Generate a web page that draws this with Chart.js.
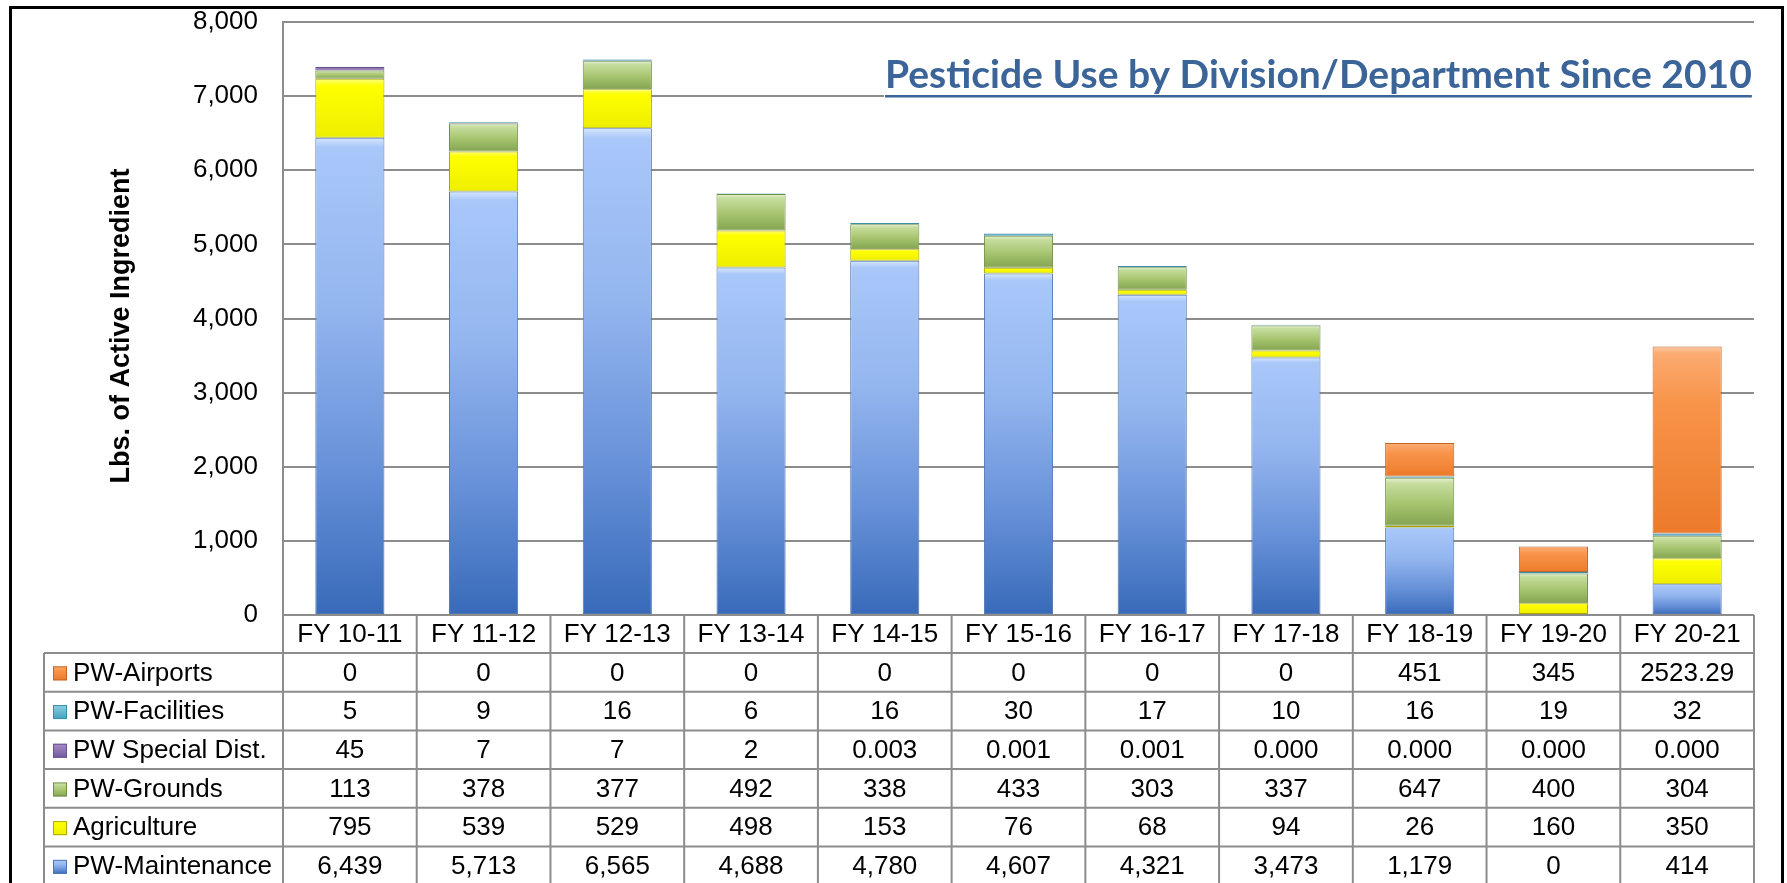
<!DOCTYPE html>
<html>
<head>
<meta charset="utf-8">
<title>Pesticide Use by Division/Department Since 2010</title>
<script src="https://cdn.jsdelivr.net/npm/chart.js@4.4.1/dist/chart.umd.min.js"></script>
<style>
  html, body { margin: 0; padding: 0; background: #fff; }
  #wrap { width: 1787px; height: 883px; }
</style>
</head>
<body>
<div id="wrap"><canvas id="pesticideChart" width="1787" height="883"></canvas></div>
<script>
var years = ['FY 10-11', 'FY 11-12', 'FY 12-13', 'FY 13-14', 'FY 14-15', 'FY 15-16', 'FY 16-17', 'FY 17-18', 'FY 18-19', 'FY 19-20', 'FY 20-21']

// lbs of active ingredient
var maintenance = [6439, 5713, 6565, 4688, 4780, 4607, 4321, 3473, 1179, 0, 414]
var agriculture = [795, 539, 529, 498, 153, 76, 68, 94, 26, 160, 350]
var grounds = [113, 378, 377, 492, 338, 433, 303, 337, 647, 400, 304]
var specialDist = [45, 7, 7, 2, 0.003, 0.001, 0.001, 0, 0, 0, 0]
var facilities = [5, 9, 16, 6, 16, 30, 17, 10, 16, 19, 32]
var airports = [0, 0, 0, 0, 0, 0, 0, 0, 451, 345, 2523.29]

var yTicks = [0, 1000, 2000, 3000, 4000, 5000, 6000, 7000, 8000]

var FONT = "'Liberation Sans', Arial, sans-serif"

function plain(v) { return String(v) }
function thousands(v) { return v.toLocaleString('en-US') }
function tiny(v) { return v >= 1 ? String(v) : v.toFixed(3) }

// bottom of the stack first
var seriesList = [
  { label: 'PW-Maintenance', values: maintenance, format: thousands, border: '#4f78b3',
    stops: [[0, '#d6e7ff'], [0.02, '#a9c7f9'], [0.35, '#94b6ef'], [0.7, '#6690d8'], [1, '#386ab9']] },
  { label: 'Agriculture', values: agriculture, format: plain, border: '#a8a800',
    stops: [[0, '#ffff80'], [0.12, '#ffff00'], [1, '#eeee00']] },
  { label: 'PW-Grounds', values: grounds, format: plain, border: '#6f8f45',
    stops: [[0, '#e6f1d2'], [0.12, '#c6dd9e'], [0.55, '#a6c46e'], [1, '#84a452']] },
  { label: 'PW Special Dist.', values: specialDist, format: tiny, border: '#6a5290',
    stops: [[0, '#a68cc6'], [1, '#7259a0']] },
  { label: 'PW-Facilities', values: facilities, format: plain, border: '#3c8fa8',
    stops: [[0, '#8fd0e4'], [1, '#3fa0bd']] },
  { label: 'PW-Airports', values: airports, format: plain, border: '#c06628',
    stops: [[0, '#fdc9a0'], [0.04, '#fbaa70'], [0.3, '#f8944a'], [1, '#ec7a2a']] },
]

function segmentFill(series, seriesIndex) {
  return function (context) {
    var chart = context.chart
    var yScale = chart.scales.y
    var i = context.dataIndex
    if (!yScale || i === undefined) return series.stops[1][1]
    var base = 0
    for (var d = 0; d < seriesIndex; d++) base += seriesList[d].values[i]
    var top = base + series.values[i]
    var y0 = yScale.getPixelForValue(top)
    var y1 = yScale.getPixelForValue(base)
    if (!(y1 - y0 > 0.5)) return series.stops[1][1]
    var g = chart.ctx.createLinearGradient(0, y0, 0, y1)
    series.stops.forEach(function (s) { g.addColorStop(s[0], s[1]) })
    return g
  }
}

var datasets = seriesList.map(function (s, idx) {
  return {
    label: s.label,
    data: s.values,
    backgroundColor: segmentFill(s, idx),
    borderColor: s.border,
    borderWidth: 1,
    borderSkipped: false,
    barPercentage: 0.517,
    categoryPercentage: 1,
  }
})

// title, y-axis title, data table and outer frame
var tablePlugin = {
  id: 'dataTable',
  afterDraw: function (chart) {
    var ctx = chart.ctx
    var area = chart.chartArea
    var colW = (area.right - area.left) / years.length
    var headerH = 38
    var rowH = 38.7
    var tableLeft = 44
    var headerBottom = area.bottom + headerH

    ctx.save()

    // title sits on a white box over the 7,000 gridline
    ctx.fillStyle = '#ffffff'
    ctx.fillRect(884, 48, area.right - 884 + 2, 58)
    ctx.font = "bold 39px Lato, 'Open Sans', sans-serif"
    ctx.fillStyle = '#3b6499'
    ctx.textAlign = 'left'
    ctx.textBaseline = 'alphabetic'
    var title = 'Pesticide Use by Division/Department Since 2010'
    ctx.fillText(title, 885, 88)
    var tw = ctx.measureText(title).width
    ctx.fillRect(885, 95, tw, 2.5)

    // y axis title
    ctx.save()
    ctx.translate(129, 326)
    ctx.rotate(-Math.PI / 2)
    ctx.font = 'bold 27px ' + FONT
    ctx.fillStyle = '#000'
    ctx.textAlign = 'center'
    ctx.fillText('Lbs. of Active Ingredient', 0, 0)
    ctx.restore()

    // table grid
    ctx.strokeStyle = '#8c8c8c'
    ctx.lineWidth = 2
    ctx.beginPath()
    ctx.moveTo(area.left, area.bottom)
    ctx.lineTo(area.right, area.bottom)
    for (var r = 0; r <= seriesList.length; r++) {
      var yy = headerBottom + r * rowH
      ctx.moveTo(tableLeft, yy)
      ctx.lineTo(area.right, yy)
    }
    for (var c = 0; c <= years.length; c++) {
      var xx = area.left + c * colW
      ctx.moveTo(xx, area.bottom)
      ctx.lineTo(xx, 900)
    }
    ctx.moveTo(tableLeft, headerBottom)
    ctx.lineTo(tableLeft, 900)
    ctx.stroke()

    ctx.font = '26px ' + FONT
    ctx.fillStyle = '#000'
    ctx.textBaseline = 'middle'
    ctx.textAlign = 'center'
    years.forEach(function (y, i) {
      ctx.fillText(y, chart.scales.x.getPixelForValue(i), area.bottom + headerH / 2 + 1)
    })

    // rows: top of the stack first
    var rows = seriesList.slice().reverse()
    rows.forEach(function (s, r) {
      var cy = headerBottom + r * rowH + rowH / 2 + 1
      var g = ctx.createLinearGradient(0, cy - 7, 0, cy + 7)
      s.stops.forEach(function (st) { g.addColorStop(st[0], st[1]) })
      ctx.fillStyle = g
      ctx.fillRect(53, cy - 7, 14, 14)
      ctx.strokeStyle = s.border
      ctx.lineWidth = 1
      ctx.strokeRect(53.5, cy - 6.5, 13, 13)

      ctx.fillStyle = '#000'
      ctx.textAlign = 'left'
      ctx.fillText(s.label, 73, cy)
      ctx.textAlign = 'center'
      s.values.forEach(function (v, i) {
        ctx.fillText(s.format(v), chart.scales.x.getPixelForValue(i), cy)
      })
    })

    // outer frame
    ctx.strokeStyle = '#000'
    ctx.lineWidth = 3
    ctx.strokeRect(10.5, 7.5, 1772, 900)

    ctx.restore()
  },
}

var chartConfig = {
  type: 'bar',
  data: { labels: years, datasets: datasets },
  options: {
    responsive: false,
    animation: false,
    layout: { padding: { left: 0, right: 33, top: 22, bottom: 268 } },
    scales: {
      x: { stacked: true, display: false },
      y: {
        stacked: true,
        min: 0,
        max: 8000,
        afterBuildTicks: function (scale) {
          scale.ticks = yTicks.map(function (v) { return { value: v } })
        },
        afterFit: function (scale) {
          scale.width = 283
          scale.paddingTop = 0
          scale.paddingBottom = 0
        },
        ticks: {
          padding: 25,
          color: '#000',
          font: { family: FONT, size: 26 },
          callback: function (v) { return v.toLocaleString('en-US') },
        },
        grid: { color: '#8c8c8c', lineWidth: 2, drawTicks: false },
        border: { color: '#8c8c8c', width: 2 },
      },
    },
    plugins: {
      legend: { display: false },
      tooltip: { enabled: false },
    },
  },
  plugins: [tablePlugin],
}

new Chart(document.getElementById('pesticideChart').getContext('2d'), chartConfig)
</script>
</body>
</html>
